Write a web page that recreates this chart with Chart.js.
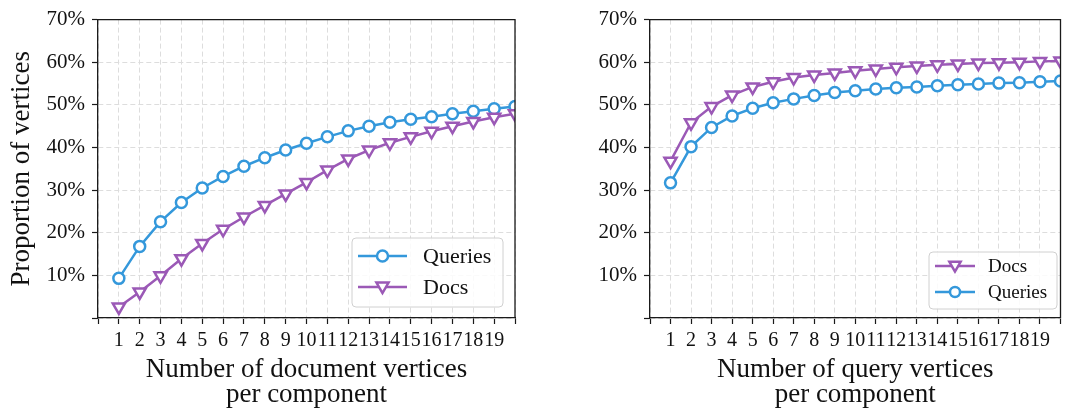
<!DOCTYPE html>
<html>
<head>
<meta charset="utf-8">
<script src="https://cdn.jsdelivr.net/npm/chart.js@4/dist/chart.umd.min.js"></script>
<style>
  html, body { margin: 0; padding: 0; background: #ffffff; }
  #wrap { position: relative; width: 1070px; height: 414px; }
  .pane { position: absolute; top: 0; width: 535px; height: 414px; }
</style>
</head>
<body>
<div id="wrap">
  <div class="pane" style="left:0"><canvas id="docChart" width="535" height="414"></canvas></div>
  <div class="pane" style="left:535px"><canvas id="queryChart" width="535" height="414"></canvas></div>
</div>
<script>
// Component size (number of vertices of one side per component)
const componentSizes = [1, 2, 3, 4, 5, 6, 7, 8, 9, 10, 11, 12, 13, 14, 15, 16, 17, 18, 19, 20];

// Left panel: grouped by number of document vertices (percent)
const docSideQueries = [9.3, 16.8, 22.6, 27.1, 30.5, 33.2, 35.6, 37.6, 39.4, 41.0, 42.5, 43.9, 45.0, 45.9, 46.6, 47.2, 47.9, 48.5, 49.1, 49.6];
const docSideDocs    = [2.6, 6.1, 9.9, 13.9, 17.5, 20.8, 23.7, 26.4, 29.1, 31.8, 34.7, 37.3, 39.4, 41.1, 42.5, 43.8, 45.0, 46.1, 47.1, 47.9];

// Right panel: grouped by number of query vertices (percent)
const querySideDocs    = [36.8, 45.8, 49.6, 52.3, 54.2, 55.4, 56.4, 57.0, 57.5, 58.0, 58.4, 58.8, 59.1, 59.4, 59.6, 59.8, 59.9, 60.0, 60.2, 60.3];
const querySideQueries = [31.7, 40.2, 44.7, 47.4, 49.2, 50.5, 51.4, 52.2, 52.9, 53.3, 53.7, 54.0, 54.2, 54.5, 54.7, 54.9, 55.1, 55.2, 55.4, 55.6];

// Tick values
const xTickValues = [0, 1, 2, 3, 4, 5, 6, 7, 8, 9, 10, 11, 12, 13, 14, 15, 16, 17, 18, 19, 20];
const xTickLabels = ['', '1', '2', '3', '4', '5', '6', '7', '8', '9', '10', '11', '12', '13', '14', '15', '16', '17', '18', '19', ''];
const yTickValues = [0, 10, 20, 30, 40, 50, 60, 70];
const yTickLabels = ['', '10%', '20%', '30%', '40%', '50%', '60%', '70%'];

const BLUE = '#3498db';
const PURPLE = '#9b59b6';
const SERIF = '"Liberation Serif", "DejaVu Serif", serif';

function toPoints(values) {
  return values.map((v, i) => ({ x: componentSizes[i], y: v }));
}

function queriesSeries(values) {
  return {
    label: 'Queries',
    data: toPoints(values),
    borderColor: BLUE,
    backgroundColor: '#ffffff',
    borderWidth: 2.5,
    pointStyle: 'circle',
    pointRadius: 5.5,
    pointBorderWidth: 2.5,
    pointBackgroundColor: '#ffffff',
    pointBorderColor: BLUE,
    tension: 0,
    clip: 0
  };
}

function docsSeries(values) {
  return {
    label: 'Docs',
    data: toPoints(values),
    borderColor: PURPLE,
    backgroundColor: '#ffffff',
    borderWidth: 2.5,
    pointStyle: 'triangle',
    pointRotation: 180,
    pointRadius: 7,
    pointBorderWidth: 2.5,
    pointBackgroundColor: '#ffffff',
    pointBorderColor: PURPLE,
    tension: 0,
    clip: 0
  };
}

// Closes the plot frame (top and right spines)
const frameBox = {
  id: 'frameBox',
  afterDraw(chart) {
    const { ctx, chartArea: a } = chart;
    ctx.save();
    ctx.strokeStyle = '#1a1a1a';
    ctx.lineWidth = 1.3;
    ctx.beginPath();
    ctx.moveTo(a.left, a.top);
    ctx.lineTo(a.right, a.top);
    ctx.lineTo(a.right, a.bottom);
    ctx.stroke();
    ctx.restore();
  }
};

function drawMarker(ctx, ds, x, y, r) {
  ctx.save();
  ctx.fillStyle = '#ffffff';
  ctx.strokeStyle = ds.pointBorderColor;
  ctx.lineWidth = 2.5;
  ctx.beginPath();
  if (ds.pointStyle === 'triangle') {
    let rad = Math.PI;
    for (let k = 0; k < 3; k++) {
      const px = x + Math.sin(rad) * r;
      const py = y - Math.cos(rad) * r;
      if (k === 0) ctx.moveTo(px, py); else ctx.lineTo(px, py);
      rad += 2 * Math.PI / 3;
    }
    ctx.closePath();
  } else {
    ctx.arc(x, y, r, 0, Math.PI * 2);
  }
  ctx.fill();
  ctx.stroke();
  ctx.restore();
}

// Framed legend placed inside the plot area
const boxLegend = {
  id: 'boxLegend',
  afterDraw(chart, args, opts) {
    const { ctx } = chart;
    const b = opts.box;
    ctx.save();
    ctx.beginPath();
    if (ctx.roundRect) ctx.roundRect(b.x, b.y, b.w, b.h, 4); else ctx.rect(b.x, b.y, b.w, b.h);
    ctx.fillStyle = 'rgba(255,255,255,0.85)';
    ctx.fill();
    ctx.strokeStyle = '#d0d0d0';
    ctx.lineWidth = 1;
    ctx.stroke();
    ctx.font = opts.fontSize + 'px ' + SERIF;
    ctx.textBaseline = 'middle';
    opts.rows.forEach((row, i) => {
      const ds = chart.data.datasets[row];
      const y = opts.firstY + i * opts.rowGap;
      ctx.strokeStyle = ds.borderColor;
      ctx.lineWidth = 2.5;
      ctx.beginPath();
      ctx.moveTo(opts.lineX0, y);
      ctx.lineTo(opts.lineX1, y);
      ctx.stroke();
      const isTri = ds.pointStyle === 'triangle';
      drawMarker(ctx, ds, (opts.lineX0 + opts.lineX1) / 2, y + (isTri ? -1 : 0), isTri ? opts.markerR + 1.5 : opts.markerR);
      ctx.fillStyle = '#111111';
      ctx.fillText(ds.label, opts.textX, y + 1);
    });
    ctx.restore();
  }
};

function buildOptions(cfg) {
  return {
    responsive: false,
    animation: false,
    layout: { padding: { top: 14, right: cfg.padRight, bottom: 0, left: 0 } },
    plugins: {
      legend: { display: false },
      tooltip: { enabled: false },
      boxLegend: cfg.legend
    },
    scales: {
      x: {
        type: 'linear',
        min: 0,
        max: 20,
        afterBuildTicks(scale) { scale.ticks = xTickValues.map(v => ({ value: v })); },
        afterFit(scale) { scale.height = 96; },
        ticks: {
          autoSkip: false,
          maxRotation: 0,
          minRotation: 0,
          padding: 5,
          color: '#111111',
          font: { family: SERIF, size: 20 },
          callback: (v) => xTickLabels[xTickValues.indexOf(v)]
        },
        grid: {
          color: '#dddddd',
          lineWidth: 1,
          tickLength: 6,
          tickColor: '#1a1a1a',
          tickWidth: 1.2
        },
        border: { display: true, color: '#1a1a1a', width: 1.3, dash: [5, 3] },
        title: {
          display: true,
          text: cfg.xTitle,
          color: '#111111',
          font: { family: SERIF, size: 27, lineHeight: 0.92 },
          padding: { top: 0, bottom: 7 }
        }
      },
      y: {
        type: 'linear',
        min: 0,
        max: 70,
        afterBuildTicks(scale) { scale.ticks = yTickValues.map(v => ({ value: v })); },
        afterFit(scale) { scale.width = cfg.yWidth; },
        ticks: {
          padding: 7,
          color: '#111111',
          font: { family: SERIF, size: 21 },
          callback: (v) => yTickLabels[yTickValues.indexOf(v)]
        },
        grid: {
          color: '#dddddd',
          lineWidth: 1,
          tickLength: 6,
          tickColor: '#1a1a1a',
          tickWidth: 1.2
        },
        border: { display: true, color: '#1a1a1a', width: 1.3, dash: [5, 3] },
        title: {
          display: !!cfg.yTitle,
          text: cfg.yTitle || '',
          color: '#111111',
          font: { family: SERIF, size: 27, lineHeight: 1.2 },
          padding: { top: 6, bottom: 0 }
        }
      }
    }
  };
}

new Chart(document.getElementById('docChart'), {
  type: 'line',
  data: {
    datasets: [
      Object.assign(queriesSeries(docSideQueries), { order: 1 }),
      Object.assign(docsSeries(docSideDocs), { order: 0 })
    ]
  },
  options: buildOptions({
    padRight: 20,
    yWidth: 98,
    yTitle: 'Proportion of vertices',
    xTitle: ['Number of document vertices', 'per component'],
    legend: {
      box: { x: 352, y: 238, w: 151, h: 69 },
      rows: [0, 1],
      firstY: 256,
      rowGap: 31,
      lineX0: 358,
      lineX1: 407,
      markerR: 5.5,
      textX: 423,
      fontSize: 22
    }
  }),
  plugins: [frameBox, boxLegend]
});

new Chart(document.getElementById('queryChart'), {
  type: 'line',
  data: {
    datasets: [
      Object.assign(docsSeries(querySideDocs), { order: 1 }),
      Object.assign(queriesSeries(querySideQueries), { order: 0 })
    ]
  },
  options: buildOptions({
    padRight: 3,
    yWidth: 115,
    yTitle: '',
    xTitle: ['Number of query vertices', 'per component'],
    legend: {
      box: { x: 394, y: 252, w: 128, h: 57 },
      rows: [0, 1],
      firstY: 266,
      rowGap: 26,
      lineX0: 400,
      lineX1: 440,
      markerR: 5,
      textX: 453,
      fontSize: 19
    }
  }),
  plugins: [frameBox, boxLegend]
});
</script>
</body>
</html>
